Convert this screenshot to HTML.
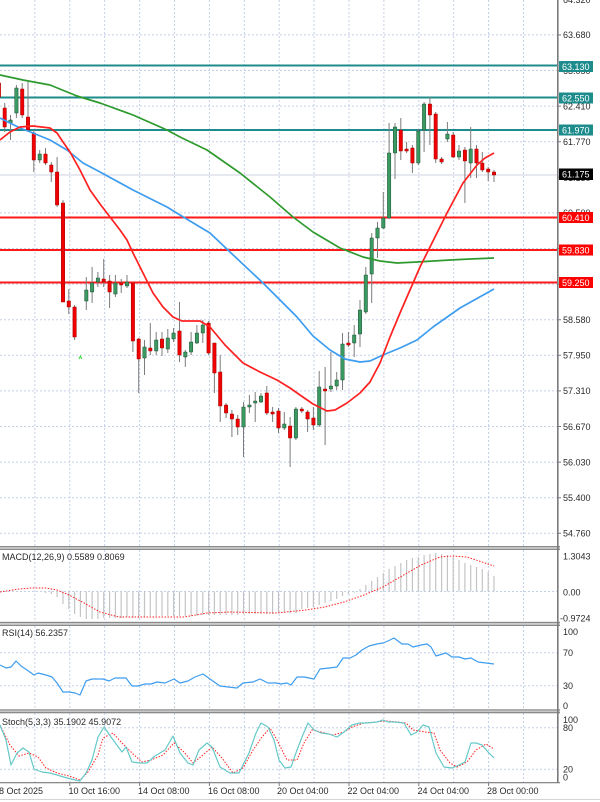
<!DOCTYPE html>
<html><head><meta charset="utf-8"><style>
html,body{margin:0;padding:0;background:#fff;}
svg{display:block;font-family:"Liberation Sans",Arial,sans-serif;}
</style></head><body>
<svg width="600" height="802" viewBox="0 0 600 802" xmlns="http://www.w3.org/2000/svg">
<rect width="600" height="802" fill="#fff"/>
<!-- vertical grid -->
<g stroke="#c3d0e6" stroke-width="1" stroke-dasharray="2,2">
<path d="M34.9 0V546M69.8 0V546M104.7 0V546M139.6 0V546M174.5 0V546M209.4 0V546M244.3 0V546M279.2 0V546M314.1 0V546M349 0V546M383.9 0V546M418.8 0V546M453.7 0V546M488.6 0V546M523.5 0V546"/>
<path d="M34.9 550V622M69.8 550V622M104.7 550V622M139.6 550V622M174.5 550V622M209.4 550V622M244.3 550V622M279.2 550V622M314.1 550V622M349 550V622M383.9 550V622M418.8 550V622M453.7 550V622M488.6 550V622M523.5 550V622"/>
<path d="M34.9 626V709M69.8 626V709M104.7 626V709M139.6 626V709M174.5 626V709M209.4 626V709M244.3 626V709M279.2 626V709M314.1 626V709M349 626V709M383.9 626V709M418.8 626V709M453.7 626V709M488.6 626V709M523.5 626V709"/>
<path d="M34.9 713V782M69.8 713V782M104.7 713V782M139.6 713V782M174.5 713V782M209.4 713V782M244.3 713V782M279.2 713V782M314.1 713V782M349 713V782M383.9 713V782M418.8 713V782M453.7 713V782M488.6 713V782M523.5 713V782"/>
<path d="M0 34.9H557M0 70.5H557M0 106.1H557M0 141.7H557M0 212.9H557M0 248.5H557M0 284.1H557M0 319.7H557M0 355.3H557M0 390.9H557M0 426.5H557M0 462.1H557M0 497.7H557M0 533.3H557"/>
<path d="M0 591.5H557M0 652.7H557M0 685.7H557M0 727.7H557M0 769.3H557"/>
</g>
<path d="M0 175H557" stroke="#d6dce8" stroke-width="1.2"/>

<!-- level lines -->
<g stroke-width="2">
<path d="M0 65.5H557M0 97.5H557M0 130H557" stroke="#1e8c8c"/>
<path d="M0 217.5H557M0 250H557M0 282.5H557" stroke="#ff1a1a"/>
</g>

<!-- wicks -->
<path fill="none" stroke="#7c7c7c" stroke-width="1" d="M-1.1 78V100M4.7 103V132M10.5 115V140M16.4 85V118M22.2 83V118M28 80V132M33.8 130V172M39.7 150V163M45.5 148V165M51.3 162V182M57.1 157V207M63 200V302M68.8 289V314M74.6 305V340M86.3 277V310M92.1 267V303M97.9 272V287M103.7 259V287M109.6 275V308M115.4 275V297M121.2 279V293M127 275V288M132.9 283V352M138.7 338V393M144.5 340V375M150.3 323V355M156.2 332V355M162 332V356M167.8 329V353M173.6 328V342M179.5 302V362M185.3 350V367M191.1 332V355M196.9 325V344M202.8 320V343M208.6 321V355M214.4 343V393M220.2 355V422M226.1 403V418M231.9 410V437M237.7 415V435M243.5 402V457M249.4 395V413M255.2 392V422M261 393V403M266.8 386V415M272.6 407V422M278.5 408V433M284.3 412V430M290.1 417V467M295.9 407V440M301.8 407V413M307.6 410V432M313.4 407V430M319.2 371V427M325.1 367V445M330.9 352V392M336.7 372V390M342.5 333V390M348.4 332V347M354.2 325V357M360 300V347M365.8 267V314M371.7 233V303M377.5 222V258M383.3 192V229M389.1 123V219M395 123V179M400.8 118V160M406.6 142V153M412.4 145V173M418.3 129V165M424.1 102V152M429.9 97V145M435.7 112V163M441.6 157V164M447.4 122V142M453.2 132V158M459 145V160M464.9 147V203M470.7 127V178M476.5 145V178M482.3 152V172M488.2 167V181M494 170V182"/>
<!-- red bodies -->
<path fill="#f00000" stroke="#a00000" stroke-width="0.5" d="M-2.8 83h3.4V97h-3.4ZM3 108h3.4V127h-3.4ZM20.5 89h3.4V115h-3.4ZM26.3 117h3.4V130h-3.4ZM32.1 133h3.4V160h-3.4ZM43.8 154h3.4V163h-3.4ZM49.6 165h3.4V172h-3.4ZM55.4 172h3.4V205h-3.4ZM61.3 203h3.4V302h-3.4ZM67.1 301h3.4V307h-3.4ZM72.9 307h3.4V337h-3.4ZM102 279h3.4V282h-3.4ZM107.9 281h3.4V292h-3.4ZM119.5 283h3.4V285h-3.4ZM131.2 283h3.4V341h-3.4ZM137 339h3.4V359h-3.4ZM148.6 348h3.4V351h-3.4ZM160.3 339h3.4V348h-3.4ZM177.8 331h3.4V355h-3.4ZM206.9 323h3.4V353h-3.4ZM212.7 343h3.4V373h-3.4ZM218.5 372h3.4V406h-3.4ZM224.4 405h3.4V413h-3.4ZM230.2 414h3.4V419h-3.4ZM236 419h3.4V427h-3.4ZM265.1 393h3.4V413h-3.4ZM270.9 412h3.4V414h-3.4ZM276.8 411h3.4V428h-3.4ZM288.4 426h3.4V438h-3.4ZM300.1 409h3.4V411h-3.4ZM305.9 412h3.4V419h-3.4ZM311.7 418h3.4V425h-3.4ZM323.4 389h3.4V391h-3.4ZM346.7 343h3.4V345h-3.4ZM399.1 130h3.4V151h-3.4ZM404.9 149h3.4V151h-3.4ZM410.7 148h3.4V163h-3.4ZM428.2 104h3.4V115h-3.4ZM434 114h3.4V159h-3.4ZM439.9 159h3.4V162h-3.4ZM451.5 135h3.4V157h-3.4ZM463.2 150h3.4V161h-3.4ZM474.8 149h3.4V163h-3.4ZM480.6 163h3.4V170h-3.4ZM486.5 169h3.4V172h-3.4ZM492.3 172h3.4V175h-3.4Z"/>
<!-- green bodies -->
<path fill="#3a9a62" stroke="#1f4f33" stroke-width="0.5" d="M8.8 120h3.4V123h-3.4ZM14.7 88h3.4V113h-3.4ZM38 154h3.4V160h-3.4ZM84.6 290h3.4V301h-3.4ZM90.4 283h3.4V292h-3.4ZM96.2 278h3.4V282h-3.4ZM113.7 283h3.4V294h-3.4ZM125.3 282h3.4V286h-3.4ZM142.8 347h3.4V358h-3.4ZM154.5 340h3.4V351h-3.4ZM166.1 338h3.4V349h-3.4ZM171.9 333h3.4V339h-3.4ZM183.6 352h3.4V357h-3.4ZM189.4 342h3.4V352h-3.4ZM195.2 333h3.4V343h-3.4ZM201.1 325h3.4V333h-3.4ZM241.8 407h3.4V427h-3.4ZM247.7 405h3.4V407h-3.4ZM253.5 401h3.4V403h-3.4ZM259.3 396h3.4V402h-3.4ZM282.6 424h3.4V428h-3.4ZM294.2 409h3.4V438h-3.4ZM317.5 387h3.4V425h-3.4ZM329.2 386h3.4V389h-3.4ZM335 380h3.4V386h-3.4ZM340.8 344h3.4V380h-3.4ZM352.5 335h3.4V343h-3.4ZM358.3 310h3.4V334h-3.4ZM364.1 275h3.4V312h-3.4ZM370 238h3.4V274h-3.4ZM375.8 228h3.4V238h-3.4ZM381.6 218h3.4V228h-3.4ZM387.4 153h3.4V218h-3.4ZM393.3 127h3.4V153h-3.4ZM416.6 131h3.4V163h-3.4ZM422.4 104h3.4V130h-3.4ZM445.7 134h3.4V139h-3.4ZM457.3 151h3.4V157h-3.4ZM469 149h3.4V163h-3.4Z"/>
<path d="M79 359L80.4 356L81.8 359" fill="none" stroke="#33dd33" stroke-width="1"/>

<!-- moving averages -->
<g fill="none" stroke-width="1.7" stroke-linejoin="round">
<polyline stroke="#2e9a2e" points="0,75 23,80 50,85 77,96 100,103 133,115 167,130 180,137 207,150 240,173 270,197 293,217 313,232 340,248 363,257 380,261 397,263 417,262 450,260 470,259 494,258"/>
<polyline stroke="#3d9df0" points="0,118 20,128 33,133 50,140 67,150 83,163 100,172 133,190 167,207 180,215 210,233 230,252 263,283 297,317 313,336 330,350 345,359 360,362 370,361 383,355 400,348 417,340 433,327 460,308 494,289"/>
<polyline stroke="#ff2020" points="0,140 10,132 20,127 33,126 50,128 57,133 63,142 70,152 80,170 90,190 100,204 110,217 120,230 127,240 133,253 143,273 153,293 163,307 173,317 182,321 200,321 210,327 225,345 243,363 260,372 277,380 290,388 300,395 313,404 327,411 335,410 347,403 360,393 370,382 380,363 390,337 400,313 410,290 420,267 430,247 447,213 463,183 477,165 485,158 494,153"/>
</g>

<!-- MACD -->
<path fill="none" stroke="#c4c4c4" stroke-width="1.2" d="M45.5 591.5V593M51.3 591.5V594M57.1 591.5V597M63 591.5V604M68.8 591.5V609M74.6 591.5V614M80.4 591.5V617M86.3 591.5V619M92.1 591.5V619M97.9 591.5V619M103.7 591.5V618M109.6 591.5V618M115.4 591.5V618M121.2 591.5V618M127 591.5V617M132.9 591.5V618M138.7 591.5V618M144.5 591.5V617M150.3 591.5V616M156.2 591.5V616M162 591.5V616M167.8 591.5V616M173.6 591.5V616M179.5 591.5V616M185.3 591.5V616M191.1 591.5V616M196.9 591.5V616M202.8 591.5V615M208.6 591.5V615M214.4 591.5V615M220.2 591.5V615M226.1 591.5V615M231.9 591.5V615M237.7 591.5V615M243.5 591.5V614M249.4 591.5V614M255.2 591.5V614M261 591.5V614M266.8 591.5V614M272.6 591.5V614M278.5 591.5V613M284.3 591.5V613M290.1 591.5V613M295.9 591.5V613M301.8 591.5V609M307.6 591.5V608M313.4 591.5V607M319.2 591.5V605M325.1 591.5V603M330.9 591.5V601M336.7 591.5V599M342.5 591.5V596M348.4 591.5V594M354.2 591.5V592.5M360 591.5V589M365.8 591.5V585M371.7 591.5V581M377.5 591.5V577M383.3 591.5V573M389.1 591.5V569M395 591.5V566M400.8 591.5V563M406.6 591.5V560M412.4 591.5V558M418.3 591.5V557M424.1 591.5V555M429.9 591.5V554M435.7 591.5V553M441.6 591.5V554M447.4 591.5V555M453.2 591.5V557M459 591.5V560M464.9 591.5V563M470.7 591.5V565M476.5 591.5V567M482.3 591.5V569M488.2 591.5V572M494 591.5V576"/>
<polyline fill="none" stroke="#ff2020" stroke-width="1" stroke-dasharray="1.5,1.5" points="0,592 19,589 31,588 46,588 57,590 69,595 84,603 100,612 119,617 145,617 184,617 207,613 230,612 276,613 306,610 325,607 344,602 364,595 383,587 402,576 421,565 440,557 452,556 467,557 482,562 494,566"/>

<!-- RSI -->
<polyline fill="none" stroke="#3d9df0" stroke-width="1.2" stroke-linejoin="round" points="0,665 6,668 11,667 16,661 21,666 27,670 34,675 38,673 46,675 52,677 57,683 63,692 69,692 75,693 80,695 86,681 92,679 103,679 109,681 115,678 126,678 132,686 138,686 145,684 151,684 157,682 165,683 174,679 180,683 188,681 195,677 203,674 210,679 220,686 228,687 237,688 243,683 253,682 260,679 268,683 276,683 281,684 287,683 291,685 297,677 304,677 314,679 320,669 329,668 337,667 343,658 350,658 356,655 362,650 369,646 377,644 383,643 388,641 394,638 402,644 408,644 413,647 421,645 427,644 431,647 436,656 446,653 452,657 459,657 465,659 471,658 478,662 486,663 494,664"/>

<!-- Stoch -->
<polyline fill="none" stroke="#ff2020" stroke-width="1" stroke-dasharray="1.5,1.5" points="0,725 10,745 19,756 29,753 38,757 46,768 57,773 69,776 80,780 88,772 98,755 103,738 113,733 122,743 132,753 142,762 151,760 163,755 174,743 184,752 193,763 203,755 212,747 222,758 233,773 243,768 253,750 262,737 270,728 277,740 287,760 297,760 304,743 312,730 321,732 333,735 344,732 352,727 364,723 375,722 387,721 398,722 406,723 413,730 425,732 434,733 440,750 450,763 457,767 467,762 476,750 486,744 494,749"/>
<polyline fill="none" stroke="#66c9c9" stroke-width="1.2" stroke-linejoin="round" points="0,725 6,740 11,765 17,753 23,748 29,752 34,769 42,772 50,773 57,775 67,778 75,780 80,781 86,773 92,760 98,737 104,727 111,737 122,752 126,747 132,762 140,763 147,763 155,756 165,750 173,736 180,753 188,763 193,765 199,750 207,743 212,747 220,767 230,773 239,773 249,753 256,733 261,723 268,727 274,740 279,760 285,768 291,767 297,750 302,737 308,723 314,730 321,733 329,734 337,737 344,732 352,725 360,723 367,723 377,722 383,720 388,722 394,722 404,723 411,735 417,732 423,725 429,727 436,753 444,767 452,768 459,765 465,762 471,743 476,743 482,745 488,752 494,758"/>

<!-- panel separators -->
<g fill="#8a8a8a">
<rect x="0" y="546" width="560" height="1.3"/><rect x="0" y="548.7" width="560" height="1.3"/>
<rect x="0" y="621.8" width="560" height="1.3"/><rect x="0" y="624.7" width="560" height="1.3"/>
<rect x="0" y="709.3" width="560" height="1.3"/><rect x="0" y="712" width="560" height="1.3"/>
<rect x="0" y="782" width="560" height="1.3"/>
</g>
<rect x="0" y="547.3" width="560" height="1.4" fill="#c8c8c8"/>
<rect x="0" y="623.1" width="560" height="1.6" fill="#c8c8c8"/>
<rect x="0" y="710.6" width="560" height="1.4" fill="#c8c8c8"/>
<rect x="557" y="0" width="1.6" height="783" fill="#7a7a7a"/>
<path d="M0 799.5H600" stroke="#d4d4d4" stroke-width="1"/>

<!-- right axis ticks -->
<path stroke="#7a7a7a" stroke-width="1" d="M558 34.9h3M558 70.5h3M558 106.1h3M558 141.7h3M558 177.3h3M558 212.9h3M558 248.5h3M558 284.1h3M558 319.7h3M558 355.3h3M558 390.9h3M558 426.5h3M558 462.1h3M558 497.7h3M558 533.3h3"/>

<!-- right axis labels -->
<g font-size="9" fill="#2a2a2a">
<text x="563" y="3">64.320</text>
<text x="563" y="38">63.680</text>
<text x="563" y="74">63.050</text>
<text x="563" y="109.5">62.410</text>
<text x="563" y="145">61.770</text>
<text x="563" y="181">61.130</text>
<text x="563" y="216">60.500</text>
<text x="563" y="252">59.860</text>
<text x="563" y="287.5">59.220</text>
<text x="563" y="323">58.580</text>
<text x="563" y="358.5">57.950</text>
<text x="563" y="394">57.310</text>
<text x="563" y="430">56.670</text>
<text x="563" y="465.5">56.030</text>
<text x="563" y="501">55.400</text>
<text x="563" y="536.5">54.760</text>
<text x="563" y="559.5">1.3043</text>
<text x="563" y="595.5">0.00</text>
<text x="560" y="621.5">-0.9724</text>
<text x="563" y="635">100</text>
<text x="563" y="656">70</text>
<text x="563" y="689">30</text>
<text x="563" y="709">0</text>
<text x="563" y="723">100</text>
<text x="563" y="731">80</text>
<text x="563" y="772.5">20</text>
<text x="563" y="780.5">0</text>
</g>
<!-- boxed labels -->
<rect x="559" y="61" width="34" height="11" fill="#1e8c8c"/>
<rect x="559" y="92.5" width="34" height="11" fill="#1e8c8c"/>
<rect x="559" y="124.5" width="34" height="11" fill="#1e8c8c"/>
<rect x="559" y="168.5" width="34" height="11.5" fill="#000"/>
<rect x="559" y="212" width="34" height="11" fill="#ff0000"/>
<rect x="559" y="244.5" width="34" height="11" fill="#ff0000"/>
<rect x="559" y="277" width="34" height="11" fill="#ff0000"/>
<g font-size="9" fill="#fff">
<text x="562" y="69.8">63.130</text>
<text x="562" y="101.3">62.550</text>
<text x="562" y="133.3">61.970</text>
<text x="562" y="177.5">61.175</text>
<text x="562" y="220.8">60.410</text>
<text x="562" y="253.3">59.830</text>
<text x="562" y="285.8">59.250</text>
</g>

<!-- panel titles -->
<g font-size="9" fill="#2a2a2a">
<text x="2" y="560">MACD(12,26,9) 0.5589 0.8069</text>
<text x="2" y="636">RSI(14) 56.2357</text>
<text x="2" y="725">Stoch(5,3,3) 35.1902 45.9072</text>
</g>

<!-- time axis -->
<path stroke="#7a7a7a" stroke-width="1" d="M69.8 783v3M139.6 783v3M209.4 783v3M279.2 783v3M349 783v3M418.8 783v3M488.6 783v3"/>
<g font-size="9" fill="#2a2a2a">
<text x="-1" y="794">8 Oct 2025</text>
<text x="68.5" y="794">10 Oct 16:00</text>
<text x="138" y="794">14 Oct 08:00</text>
<text x="208" y="794">16 Oct 08:00</text>
<text x="277" y="794">20 Oct 04:00</text>
<text x="347.5" y="794">22 Oct 04:00</text>
<text x="417.5" y="794">24 Oct 04:00</text>
<text x="487" y="794">28 Oct 00:00</text>
</g>
</svg>
</body></html>
